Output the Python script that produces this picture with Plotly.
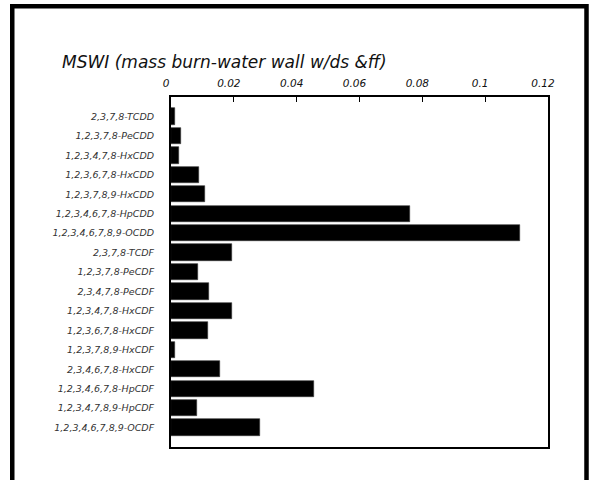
import plotly.graph_objects as go

# PCDD/PCDF congeners (top to bottom) and their emission values
congeners = [
    "2,3,7,8-TCDD",
    "1,2,3,7,8-PeCDD",
    "1,2,3,4,7,8-HxCDD",
    "1,2,3,6,7,8-HxCDD",
    "1,2,3,7,8,9-HxCDD",
    "1,2,3,4,6,7,8-HpCDD",
    "1,2,3,4,6,7,8,9-OCDD",
    "2,3,7,8-TCDF",
    "1,2,3,7,8-PeCDF",
    "2,3,4,7,8-PeCDF",
    "1,2,3,4,7,8-HxCDF",
    "1,2,3,6,7,8-HxCDF",
    "1,2,3,7,8,9-HxCDF",
    "2,3,4,6,7,8-HxCDF",
    "1,2,3,4,6,7,8-HpCDF",
    "1,2,3,4,7,8,9-HpCDF",
    "1,2,3,4,6,7,8,9-OCDF",
]
values = [
    0.0013, 0.0033, 0.0025, 0.0090, 0.0108, 0.0761, 0.1112,
    0.0194, 0.0086, 0.0121, 0.0194, 0.0117, 0.0013, 0.0157,
    0.0454, 0.0084, 0.0284,
]
x_ticks = [0, 0.02, 0.04, 0.06, 0.08, 0.1, 0.12]
x_tick_labels = ["0", "0.02", "0.04", "0.06", "0.08", "0.1", "0.12"]
title_text = "MSWI (mass burn-water wall w/ds &ff)"

W, H = 590, 480
ML, MR, MT, MB = 171, 42, 97, 33
PW, PH = W - ML - MR, H - MT - MB


def px_to_paper(px, py):
    return (px - ML) / PW, (H - MB - py) / PH


FONT = "DejaVu Sans"

fig = go.Figure(
    go.Bar(
        x=values,
        y=list(range(len(congeners))),
        orientation="h",
        width=0.84,
        marker=dict(color="black", line=dict(color="#333333", width=0.6)),
        hoverinfo="skip",
    )
)

# outer frame around the whole figure (runs off the bottom edge)
fx0, fy0 = px_to_paper(12.25, 6.25)
fx1, fy1 = px_to_paper(586.5, 500)
fig.add_shape(
    type="rect", xref="paper", yref="paper",
    x0=fx0, x1=fx1, y0=fy1, y1=fy0,
    line=dict(color="black", width=4.5), fillcolor="rgba(0,0,0,0)",
    layer="above",
)

fig.update_layout(
    width=W, height=H,
    margin=dict(l=ML, r=MR, t=MT, b=MB),
    paper_bgcolor="white", plot_bgcolor="white",
    showlegend=False,
    bargap=0,
    title=dict(
        text=title_text,
        x=62 / W, xref="container", xanchor="left",
        y=1 - 62 / H, yref="container", yanchor="middle",
        font=dict(family=FONT, size=17, color="#111111", style="italic"),
    ),
    xaxis=dict(
        side="top",
        range=[0, 0.12],
        tickvals=x_ticks, ticktext=x_tick_labels,
        ticks="inside", ticklen=5, tickwidth=1, tickcolor="black",
        ticklabelstandoff=4, ticklabelshift=-5,
        showline=True, linecolor="black", linewidth=2, mirror=True,
        showgrid=False, zeroline=False,
        tickfont=dict(family=FONT, size=10.5, color="#111111", style="italic"),
        fixedrange=True,
    ),
    yaxis=dict(
        range=[len(congeners), -1],
        tickvals=list(range(len(congeners))), ticktext=congeners,
        ticks="", ticklabelstandoff=13,
        showline=True, linecolor="black", linewidth=2, mirror=True,
        showgrid=False, zeroline=False,
        tickfont=dict(family=FONT, size=9.5, color="#333333", style="italic"),
        fixedrange=True,
    ),
)

fig.write_html("out.html")
